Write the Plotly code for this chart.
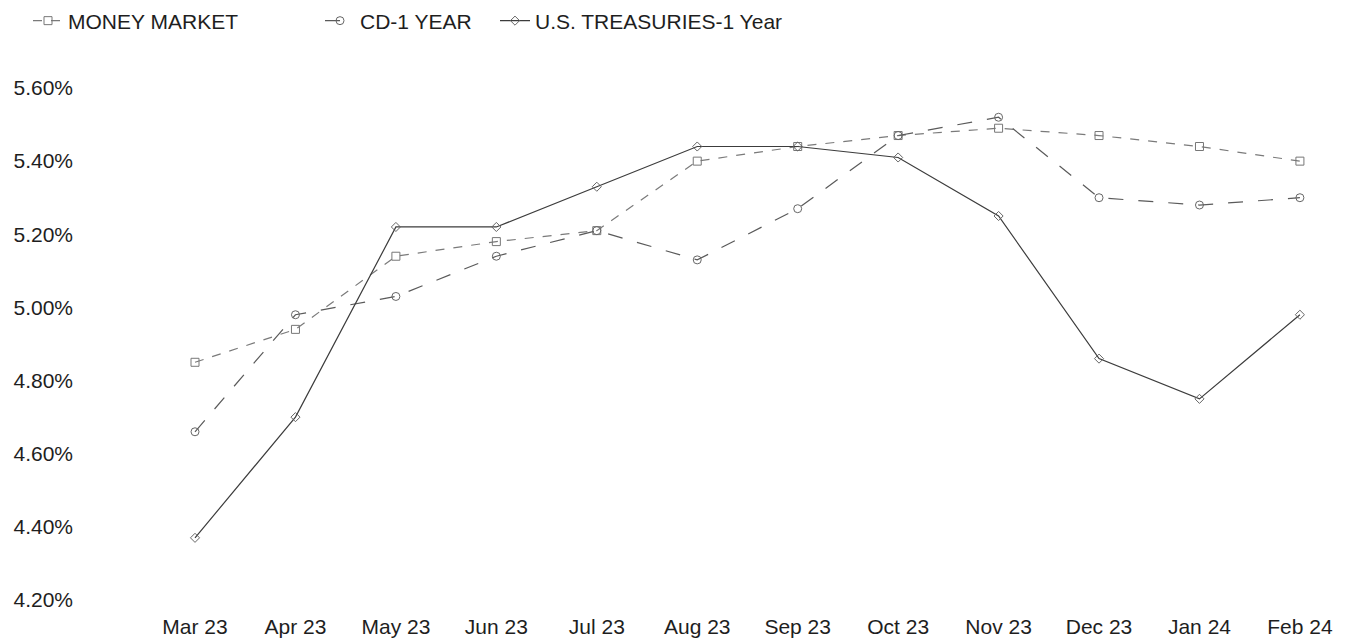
import plotly.graph_objects as go

months = ["Mar 23", "Apr 23", "May 23", "Jun 23", "Jul 23", "Aug 23",
          "Sep 23", "Oct 23", "Nov 23", "Dec 23", "Jan 24", "Feb 24"]
money_market = [4.85, 4.94, 5.14, 5.18, 5.21, 5.40, 5.44, 5.47, 5.49, 5.47, 5.44, 5.40]
cd_1_year = [4.66, 4.98, 5.03, 5.14, 5.21, 5.13, 5.27, 5.47, 5.52, 5.30, 5.28, 5.30]
treasuries_1_year = [4.37, 4.70, 5.22, 5.22, 5.33, 5.44, 5.44, 5.41, 5.25, 4.86, 4.75, 4.98]
y_ticks = [4.2, 4.4, 4.6, 4.8, 5.0, 5.2, 5.4, 5.6]
y_tick_text = ["4.20%", "4.40%", "4.60%", "4.80%", "5.00%", "5.20%", "5.40%", "5.60%"]

FONT = "Liberation Sans, Arial, sans-serif"
TEXT = "#1e1e1e"

# the page body adds an 8px margin, so the figure is sized to fit inside the window
L, R, T, B = 72, 30, 80, 38
W, H = 1341, 630
PW, PH = W - L - R, H - T - B


def px_x(p):
    return (p - L) / PW


def px_y(p):
    return (H - B - p) / PH


fig = go.Figure()
fig.add_trace(go.Scatter(
    x=months, y=money_market, name="MONEY MARKET", mode="lines+markers",
    line=dict(color="#7a7a7a", width=1.2, dash="dash"),
    marker=dict(symbol="square-open", size=8, color="#777777", line=dict(width=1)),
    legend="legend",
))
fig.add_trace(go.Scatter(
    x=months, y=cd_1_year, name="CD-1 YEAR", mode="lines+markers",
    line=dict(color="#5a5a5a", width=1.2, dash="longdash"),
    marker=dict(symbol="circle-open", size=8, color="#666666", line=dict(width=1)),
    legend="legend2",
))
fig.add_trace(go.Scatter(
    x=months, y=treasuries_1_year, name="U.S. TREASURIES-1 Year", mode="lines+markers",
    line=dict(color="#3c3c3c", width=1.2),
    marker=dict(symbol="diamond-open", size=7, color="#666666", line=dict(width=1)),
    legend="legend3",
))

leg_common = dict(
    orientation="h", xanchor="left", yanchor="middle", y=px_y(13),
    font=dict(family=FONT, size=21, color=TEXT),
    bgcolor="rgba(0,0,0,0)", borderwidth=0,
)

fig.update_layout(
    width=W, height=H,
    paper_bgcolor="white", plot_bgcolor="white",
    margin=dict(l=L, r=R, t=T, b=B, autoexpand=False),
    font=dict(family=FONT, size=21, color=TEXT),
    showlegend=True,
    legend=dict(x=px_x(20), **leg_common),
    legend2=dict(x=px_x(312), **leg_common),
    legend3=dict(x=px_x(487), **leg_common),
    xaxis=dict(
        type="category", range=[-1.145, 11.19],
        showgrid=False, zeroline=False, showline=False,
        ticks="", ticklabelstandoff=12,
        tickfont=dict(family=FONT, size=21, color=TEXT),
    ),
    yaxis=dict(
        range=[4.2, 5.6], tickvals=y_ticks, ticktext=y_tick_text,
        showgrid=False, zeroline=False, showline=False, ticks="",
        ticklabelstandoff=6,
        tickfont=dict(family=FONT, size=21, color=TEXT),
    ),
)

fig.write_html("out.html")
